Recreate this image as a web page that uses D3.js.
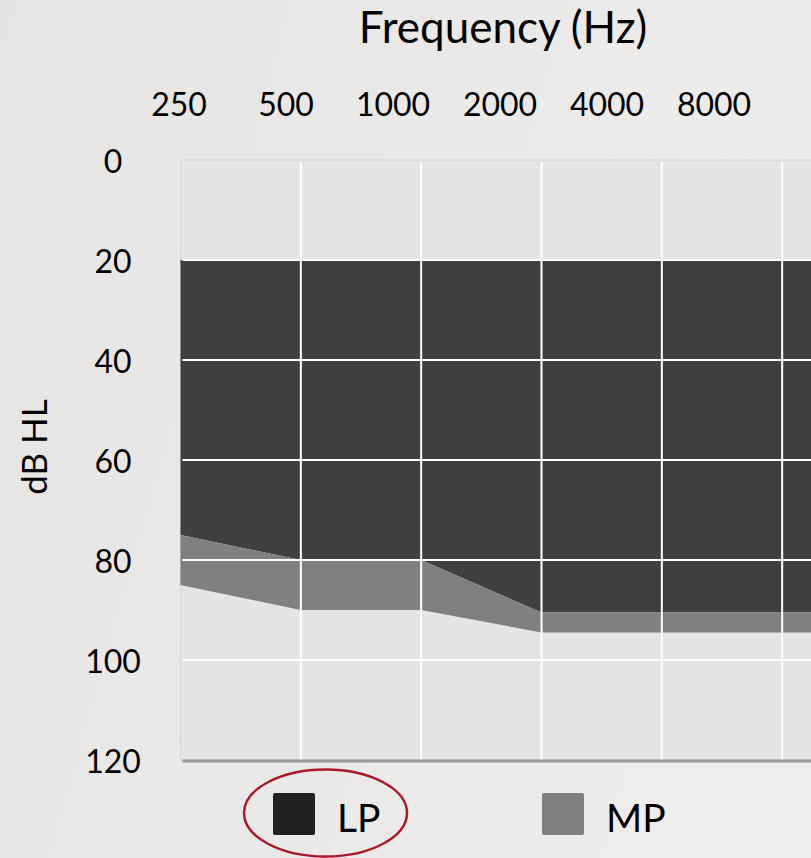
<!DOCTYPE html>
<html>
<head>
<meta charset="utf-8">
<script src="https://cdn.jsdelivr.net/npm/d3@7"></script>
<style>
  html, body { margin: 0; padding: 0; background: #ebe9e7; }
  svg { display: block; }
  text { font-family: Lato, "Open Sans", sans-serif; fill: #000; }
</style>
</head>
<body>
<script>
// ---- data ----
const freqs = [250, 500, 1000, 2000, 4000, 8000];
const freqLabels = ["250", "500", "1000", "2000", "4000", "8000"];
const dbTicks = [0, 20, 40, 60, 80, 100, 120];
const lpTop = [20, 20, 20, 20, 20, 20];
const lpBottom = [75, 80, 80, 90.5, 90.5, 90.5];
const mpBottom = [85, 90, 90, 94.5, 94.5, 94.5];
const legendNames = ["LP", "MP"];
const legendColors = ["#222222", "#808080"];
const areaColors = ["#404040", "#808080"];

const W = 811, H = 858;
const svg = d3.select("body").append("svg").attr("width", W).attr("height", H);

const defs = svg.append("defs");
const bg = defs.append("linearGradient").attr("id", "bg").attr("x1", 0).attr("y1", 0).attr("x2", 1).attr("y2", 0.3);
bg.append("stop").attr("offset", "0%").attr("stop-color", "#e7e5e3");
bg.append("stop").attr("offset", "100%").attr("stop-color", "#efedeb");
svg.append("rect").attr("width", W).attr("height", H).attr("fill", "url(#bg)");

const x = d3.scaleLog().base(2).domain([250, 16000]).range([180.5, 902.5]);
const y = d3.scaleLinear().domain([0, 120]).range([160, 760]);

// plot background
const [x0, x1] = x.range();
svg.append("rect").attr("x", x0).attr("y", y(0)).attr("width", x1 - x0).attr("height", y(120) - y(0))
  .attr("fill", "#e5e5e5").attr("stroke", "#d6d6d6").attr("stroke-width", 1);

// extend the last value to the right edge of the plot
const ext = arr => freqs.map((f, i) => ({ f, v: arr[i] })).concat([{ f: x.domain()[1], v: arr[arr.length - 1] }]);
const lpT = ext(lpTop), lpB = ext(lpBottom), mpB = ext(mpBottom);

const lpData = lpT.map((d, i) => ({ f: d.f, a: d.v, b: lpB[i].v }));
const mpData = lpB.map((d, i) => ({ f: d.f, a: d.v, b: mpB[i].v }));

const area = d3.area().x(d => x(d.f)).y0(d => y(d.a)).y1(d => y(d.b));
svg.append("path").datum(lpData).attr("d", area).attr("fill", areaColors[0]);
svg.append("path").datum(mpData).attr("d", area).attr("fill", areaColors[1]);

// grid
const grid = svg.append("g");
grid.selectAll("line.h").data(dbTicks.slice(1, -1)).join("line")
  .attr("x1", x0 + 2).attr("x2", x1).attr("y1", d => y(d)).attr("y2", d => y(d))
  .attr("stroke", "#ffffff").attr("stroke-width", 2);
grid.selectAll("line.v").data(freqs.slice(1)).join("line")
  .attr("x1", d => x(d)).attr("x2", d => x(d)).attr("y1", y(0) + 2).attr("y2", y(120))
  .attr("stroke", "#ffffff").attr("stroke-width", 2);

// bottom axis line
svg.append("line").attr("x1", x0 + 2).attr("x2", x1).attr("y1", y(120) + 1).attr("y2", y(120) + 1)
  .attr("stroke", "#9a9a9a").attr("stroke-width", 3);

// top labels
svg.append("text").attr("x", 503).attr("y", 43).attr("text-anchor", "middle")
  .attr("font-size", 44).text("Frequency (Hz)");

const xl = d3.scalePoint().domain(freqLabels).range([179, 714]);
svg.append("g").selectAll("text").data(freqLabels).join("text")
  .attr("x", d => xl(d)).attr("y", 116).attr("text-anchor", "middle")
  .attr("font-size", 32).text(d => d);

// y labels
svg.append("g").selectAll("text").data(dbTicks).join("text")
  .attr("x", 113).attr("y", d => y(d) + 13).attr("text-anchor", "middle")
  .attr("font-size", 32).text(d => d);

svg.append("text").attr("transform", "translate(47,447) rotate(-90)")
  .attr("text-anchor", "middle").attr("font-size", 35).text("dB HL");

// legend
const legendX = [273, 542];
const lg = svg.append("g").selectAll("g").data(legendNames).join("g")
  .attr("transform", (d, i) => `translate(${legendX[i]},793)`);
lg.append("rect").attr("width", 42).attr("height", 42).attr("rx", 2)
  .attr("fill", (d, i) => legendColors[i]);
lg.append("text").attr("x", 64).attr("y", 39).attr("font-size", 39).text(d => d);

// highlight ellipse
svg.append("ellipse").attr("cx", 325.5).attr("cy", 813).attr("rx", 81.5).attr("ry", 43.5)
  .attr("fill", "none").attr("stroke", "#a8192e").attr("stroke-width", 2.5);
</script>
</body>
</html>
